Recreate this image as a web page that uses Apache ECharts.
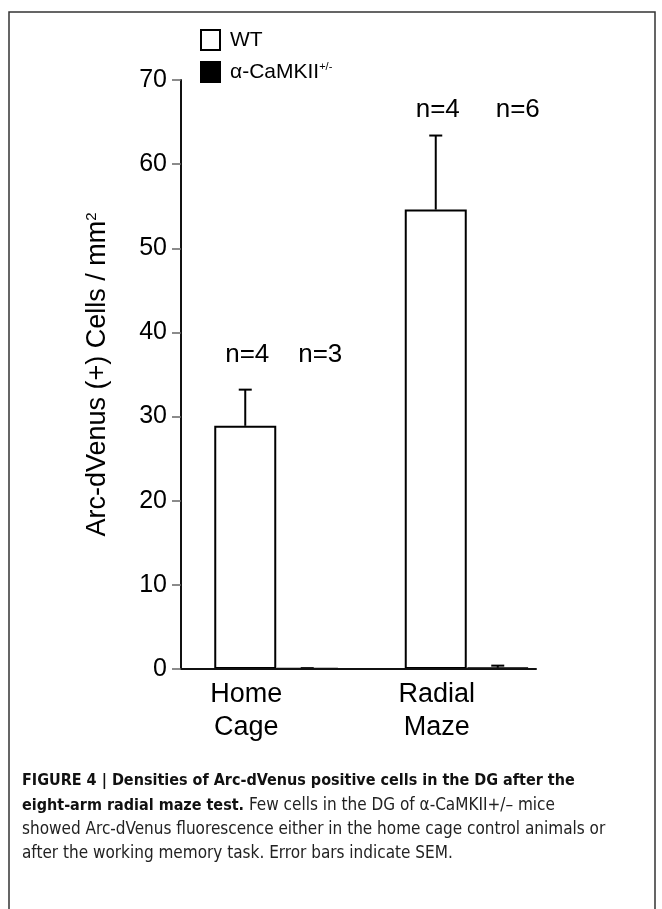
<!DOCTYPE html>
<html>
<head>
<meta charset="utf-8">
<script src="https://cdn.jsdelivr.net/npm/echarts@6/dist/echarts.min.js"></script>
<style>
html,body{margin:0;padding:0;background:#fff;}
#chart{width:662px;height:909px;}
</style>
</head>
<body>
<div id="chart"></div>
<script>
// ---- data ----
const categories = ['Home\nCage', 'Radial\nMaze'];
const seriesNames = ['WT', 'α-CaMKII'];
const wtMean = [28.9, 54.6];
const wtErrTop = [33.2, 63.4];
const koMean = [0.08, 0.15];
const koErrTop = [0.1, 0.4];
const wtN = ['n=4', 'n=4'];
const koN = ['n=3', 'n=6'];
const nLabelLevel = [37.3, 66.4];
const yTicks = { min: 0, max: 70, interval: 10 };
const captionBold1 = 'FIGURE 4 | Densities of Arc-dVenus positive cells in the DG after the';
const captionBold2 = 'eight-arm radial maze test.';
const captionRest2 = ' Few cells in the DG of α-CaMKII+/– mice';
const captionLine3 = 'showed Arc-dVenus fluorescence either in the home cage control animals or';
const captionLine4 = 'after the working memory task. Error bars indicate SEM.';

// ---- styles ----
const FONT = 'Liberation Sans, Arial, Helvetica, sans-serif';
const CAPFONT = '"Liberation Sans Narrow", "DejaVu Sans Condensed", "Liberation Sans", sans-serif';
const BAR_W = 62;
const chart = echarts.init(document.getElementById('chart'), null, { renderer: 'canvas' });

function errRender(meanArr, topArr, side) {
  return function (params, api) {
    const i = params.dataIndex;
    const cx = api.coord([i, 0])[0] + side * BAR_W / 2;
    const yTop = api.coord([i, topArr[i]])[1];
    const yBar = api.coord([i, meanArr[i]])[1];
    return {
      type: 'group',
      children: [
        { type: 'line', shape: { x1: cx, y1: yBar, x2: cx, y2: yTop }, style: { stroke: '#000', lineWidth: 2 } },
        { type: 'line', shape: { x1: cx - 6.5, y1: yTop, x2: cx + 6.5, y2: yTop }, style: { stroke: '#000', lineWidth: 2 } }
      ]
    };
  };
}

function nRender(labels, side, dx) {
  return function (params, api) {
    const i = params.dataIndex;
    const cx = api.coord([i, 0])[0] + side * BAR_W / 2 + dx[i];
    const y = api.coord([i, nLabelLevel[i]])[1];
    return {
      type: 'text',
      style: { text: labels[i], x: cx, y: y, align: 'center', verticalAlign: 'middle', fill: '#000', font: '26px ' + FONT }
    };
  };
}

const option = {
  animation: false,
  backgroundColor: '#fff',
  grid: { left: 181, right: 100, top: 80, bottom: 240 },
  legend: {
    data: seriesNames.map(n => ({ name: n, icon: 'rect' })),
    orient: 'vertical',
    left: 200,
    top: 29,
    padding: 0,
    itemWidth: 19,
    itemHeight: 20,
    itemGap: 10,
    formatter: function (name) { return name === 'WT' ? 'WT' : name + '{sup|+/-}'; },
    textStyle: {
      color: '#000', fontSize: 21, fontFamily: FONT, padding: [0, 0, 0, 5],
      rich: { sup: { fontSize: 11, fontFamily: FONT, color: '#000', verticalAlign: 'top', padding: [0, 0, 8, 0] } }
    }
  },
  xAxis: {
    type: 'category',
    data: categories,
    axisLine: { show: false },
    axisTick: { show: false },
    axisLabel: {
      color: '#000', fontSize: 27, fontFamily: FONT, lineHeight: 33, margin: 9,
      padding: [0, 60, 0, 0]
    }
  },
  yAxis: {
    type: 'value',
    min: yTicks.min, max: yTicks.max, interval: yTicks.interval,
    name: 'Arc-dVenus (+) Cells / mm{sup|2}',
    nameLocation: 'middle',
    nameRotate: 90,
    nameGap: 70,
    nameTextStyle: {
      color: '#000', fontSize: 27, fontFamily: FONT,
      rich: { sup: { fontSize: 15, fontFamily: FONT, color: '#000', verticalAlign: 'top', padding: [0, 0, 11, 0] } }
    },
    axisLine: { show: true, lineStyle: { color: '#111', width: 2 } },
    axisTick: { show: true, length: 9, lineStyle: { color: '#666', width: 1.5 } },
    axisLabel: { color: '#000', fontSize: 25, fontFamily: FONT, margin: 14 },
    splitLine: { show: false }
  },
  graphic: [
    { type: 'rect', shape: { x: 9, y: 12, width: 646, height: 920 }, style: { fill: 'none', stroke: '#333', lineWidth: 1.5 }, silent: true },
    { type: 'text', left: 22, top: 773, style: { text: captionBold1, font: 'bold 16px ' + CAPFONT, fill: '#111' } },
    { type: 'text', left: 22, top: 797, style: {
        text: '{b|' + captionBold2 + '}{r|' + captionRest2 + '}',
        rich: { b: { font: 'bold 16px ' + CAPFONT, fill: '#111' }, r: { font: '17px ' + CAPFONT, fill: '#222' } } } },
    { type: 'text', left: 22, top: 821, style: { text: captionLine3, font: '17px ' + CAPFONT, fill: '#222' } },
    { type: 'text', left: 22, top: 845, style: { text: captionLine4, font: '17px ' + CAPFONT, fill: '#222' } }
  ],
  series: [
    {
      name: 'WT', type: 'bar', data: wtMean, barWidth: BAR_W, barGap: '0%',
      itemStyle: { color: '#fff', borderColor: '#000', borderWidth: 2 }
    },
    {
      name: 'α-CaMKII', type: 'bar', data: koMean, barWidth: BAR_W, barGap: '0%',
      itemStyle: { color: '#000', borderColor: '#000', borderWidth: 2 }
    },
    { type: 'custom', name: 'errWT', data: wtMean.map((v, i) => [i, v]), renderItem: errRender(wtMean, wtErrTop, -1), z: 3 },
    { type: 'custom', name: 'errKO', data: koMean.map((v, i) => [i, v]), renderItem: errRender(koMean, koErrTop, 1), z: 3 },
    { type: 'custom', name: 'nWT', data: wtN.map((v, i) => [i, nLabelLevel[i]]), renderItem: nRender(wtN, -1, [2, 2]) },
    { type: 'custom', name: 'nKO', data: koN.map((v, i) => [i, nLabelLevel[i]]), renderItem: nRender(koN, 1, [13, 20]) },
    {
      type: 'custom', name: 'baseline', data: [[categories.length - 1, 0]], z: 4,
      renderItem: function (params, api) {
        const p = api.coord([categories.length - 1, 0]);
        const x0 = params.coordSys.x;
        return { type: 'line', shape: { x1: x0, y1: p[1], x2: p[0] + BAR_W + 8, y2: p[1] }, style: { stroke: '#111', lineWidth: 2 } };
      }
    }
  ]
};
chart.setOption(option);
</script>
</body>
</html>
